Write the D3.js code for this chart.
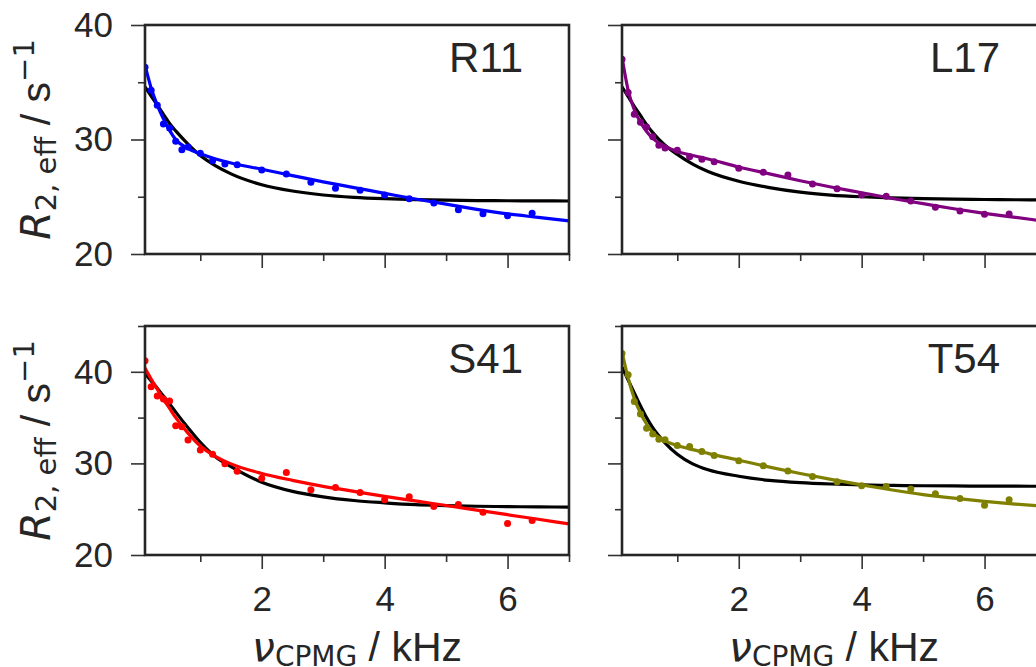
<!DOCTYPE html>
<html>
<head>
<meta charset="utf-8">
<script src="https://cdn.jsdelivr.net/npm/d3@7"></script>
<style>
  body { margin: 0; background: #fff; }
  text { fill: #262626; }
</style>
</head>
<body>
<script>
// ---- data ----
var nu = [0.1, 0.2, 0.3, 0.4, 0.5, 0.6, 0.7, 0.8, 1.0, 1.2, 1.4, 1.6, 2.0, 2.4, 2.8, 3.2, 3.6, 4.0, 4.4, 4.8, 5.2, 5.6, 6.0, 6.4]
var residues = ["R11", "L17", "S41", "T54"]
var colors = ["#0000ff", "#800080", "#ff0000", "#808000"]

var r2R11 = [36.3, 34.3, 33.0, 31.35, 31.0, 29.85, 29.1, 29.35, 28.8, 28.15, 27.86, 27.8, 27.34, 26.99, 26.26, 25.74, 25.56, 25.15, 24.83, 24.45, 23.87, 23.52, 23.35, 23.55]
var r2L17 = [37.0, 34.1, 32.2, 31.5, 31.1, 30.25, 29.5, 29.26, 29.06, 28.5, 28.27, 28.06, 27.48, 27.13, 26.9, 26.11, 25.7, 25.15, 25.04, 24.63, 24.08, 23.76, 23.47, 23.49]
var r2S41 = [41.2, 38.37, 37.35, 37.02, 36.8, 34.12, 34.0, 32.56, 31.47, 31.0, 29.95, 29.15, 28.38, 29.0, 27.11, 27.37, 26.82, 26.03, 26.35, 25.3, 25.52, 24.68, 23.45, 23.77]
var r2T54 = [42.0, 39.67, 36.76, 35.4, 33.85, 33.2, 32.65, 32.58, 31.96, 31.85, 31.3, 30.87, 30.29, 29.75, 29.16, 28.58, 28.0, 27.56, 27.49, 27.2, 26.69, 26.18, 25.42, 26.04]

// fitted curves, sampled on this grid
var fitNu = [0.1, 0.2, 0.3, 0.4, 0.5, 0.6, 0.8, 1.0, 1.25, 1.5, 2.0, 2.5, 3.0, 3.5, 4.0, 4.5, 5.0, 5.5, 6.0, 6.5, 7.0]
var fitR11 = [36.5, 34.5, 33.0, 31.8, 30.8, 30.0, 29.2, 28.75, 28.3, 27.95, 27.4, 26.85, 26.3, 25.8, 25.3, 24.8, 24.35, 23.9, 23.5, 23.2, 22.9]
var fitL17 = [37.2, 34.3, 32.6, 31.5, 30.7, 30.1, 29.4, 28.95, 28.6, 28.3, 27.6, 27.0, 26.4, 25.85, 25.35, 24.85, 24.4, 23.95, 23.55, 23.2, 22.85]
var fitS41 = [40.4, 39.2, 38.1, 37.0, 36.0, 35.0, 33.3, 31.9, 30.75, 29.95, 28.9, 28.15, 27.5, 26.95, 26.4, 25.9, 25.4, 24.9, 24.4, 23.9, 23.4]
var fitT54 = [42.2, 39.3, 37.1, 35.5, 34.3, 33.4, 32.45, 31.95, 31.5, 31.1, 30.35, 29.6, 28.9, 28.25, 27.65, 27.1, 26.6, 26.2, 25.85, 25.55, 25.3]

// global (black) fit
var globR11 = [34.6, 33.8, 33.0, 32.2, 31.4, 30.75, 29.6, 28.6, 27.7, 27.0, 26.05, 25.5, 25.15, 24.95, 24.83, 24.75, 24.7, 24.67, 24.65, 24.64, 24.63]
var globL17 = [34.6, 33.75, 32.9, 32.1, 31.3, 30.6, 29.5, 28.7, 27.85, 27.2, 26.35, 25.8, 25.4, 25.15, 25.0, 24.9, 24.83, 24.79, 24.76, 24.74, 24.72]
var globS41 = [39.8, 39.0, 38.2, 37.35, 36.5, 35.6, 33.9, 32.3, 30.7, 29.65, 27.95, 26.95, 26.35, 25.95, 25.7, 25.5, 25.4, 25.32, 25.28, 25.25, 25.23]
var globT54 = [40.5, 39.1, 37.7, 36.3, 35.0, 33.9, 32.25, 31.0, 29.95, 29.3, 28.6, 28.15, 27.9, 27.75, 27.65, 27.6, 27.56, 27.54, 27.52, 27.51, 27.5]

var xMajor = [2, 4, 6], xMinor = [1, 3, 5, 7]
var yMajor = [20, 30, 40]
var yMinorTop = [25, 35], yMinorBot = [25, 35, 45]

var panels = [
  { name: residues[0], color: colors[0], pts: r2R11, fit: fitR11, glob: globR11, left: 145, top: 25,  ymax: 40, ymin: yMinorTop, col: 0, row: 0 },
  { name: residues[1], color: colors[1], pts: r2L17, fit: fitL17, glob: globL17, left: 622, top: 25,  ymax: 40, ymin: yMinorTop, col: 1, row: 0 },
  { name: residues[2], color: colors[2], pts: r2S41, fit: fitS41, glob: globS41, left: 145, top: 326, ymax: 45, ymin: yMinorBot, col: 0, row: 1 },
  { name: residues[3], color: colors[3], pts: r2T54, fit: fitT54, glob: globT54, left: 622, top: 326, ymax: 45, ymin: yMinorBot, col: 1, row: 1 }
]

var W = 424, H = 229
var ink = "#262626"
var sans = "'Liberation Sans', Arial, sans-serif"
var math = "'DejaVu Sans', sans-serif"

var svg = d3.select("body").append("svg")
  .attr("width", 1036).attr("height", 667)

panels.forEach(function (p, i) {
  var x = d3.scaleLinear().domain([0.1, 7]).range([0, W])
  var y = d3.scaleLinear().domain([20, p.ymax]).range([H, 0])

  var g = svg.append("g").attr("transform", "translate(" + p.left + "," + p.top + ")")

  g.append("clipPath").attr("id", "clip" + i)
    .append("rect").attr("width", W).attr("height", H)

  // ticks
  var xa = g.append("g").attr("transform", "translate(0," + H + ")")
  xa.call(d3.axisBottom(x).tickValues(xMajor).tickSize(14).tickPadding(17)
    .tickFormat(p.row == 1 ? d3.format("d") : ""))
  xa.append("g").call(d3.axisBottom(x).tickValues(xMinor).tickSize(7).tickFormat(""))

  var ya = g.append("g")
  ya.call(d3.axisLeft(y).tickValues(yMajor).tickSize(14).tickPadding(18)
    .tickFormat(p.col == 0 ? d3.format("d") : ""))
  ya.append("g").call(d3.axisLeft(y).tickValues(p.ymin).tickSize(7).tickFormat(""))

  g.selectAll(".domain").remove()
  g.selectAll(".tick line").attr("stroke", "#333").attr("stroke-width", 1.6)
  g.selectAll(".tick text").attr("font-family", sans).attr("font-size", 35).attr("fill", ink)

  var plot = g.append("g").attr("clip-path", "url(#clip" + i + ")")

  var line = d3.line().curve(d3.curveMonotoneX)
    .x(function (d) { return x(d[0]) }).y(function (d) { return y(d[1]) })

  plot.append("path").datum(d3.zip(fitNu, p.glob))
    .attr("d", line).attr("fill", "none").attr("stroke", "#000").attr("stroke-width", 3.2)

  plot.append("path").datum(d3.zip(fitNu, p.fit))
    .attr("d", line).attr("fill", "none").attr("stroke", p.color).attr("stroke-width", 3.2)

  plot.selectAll("circle").data(d3.zip(nu, p.pts)).enter().append("circle")
    .attr("cx", function (d) { return x(d[0]) })
    .attr("cy", function (d) { return y(d[1]) })
    .attr("r", 3.5).attr("fill", p.color)

  // frame
  g.append("rect").attr("width", W).attr("height", H)
    .attr("fill", "none").attr("stroke", ink).attr("stroke-width", 2.6)

  g.append("text").attr("x", W - 46).attr("y", 47)
    .attr("text-anchor", "end").attr("font-family", sans).attr("font-size", 42)
    .text(p.name)

  // y label
  if (p.col == 0) {
    var t = svg.append("text")
      .attr("transform", "translate(50," + (p.top + H / 2) + ") rotate(-90)")
      .attr("text-anchor", "middle").attr("font-size", 41)
    t.append("tspan").attr("font-family", math).attr("font-style", "italic").text("R")
    t.append("tspan").attr("font-family", math).attr("font-size", 29).attr("dy", 6).text("2, eff")
    t.append("tspan").attr("font-family", sans).attr("dy", -6).text(" / s")
    t.append("tspan").attr("font-family", math).attr("font-size", 29).attr("dy", -16).text("\u22121")
  }

  // x label
  if (p.row == 1) {
    var u = svg.append("text")
      .attr("x", p.left + W / 2).attr("y", 661)
      .attr("text-anchor", "middle").attr("font-size", 41)
    u.append("tspan").attr("font-family", math).attr("font-style", "italic").text("\u03bd")
    u.append("tspan").attr("font-family", math).attr("font-size", 28).attr("dy", 5).text("CPMG")
    u.append("tspan").attr("font-family", sans).attr("dy", -5).text(" / kHz")
  }
})
</script>
</body>
</html>
